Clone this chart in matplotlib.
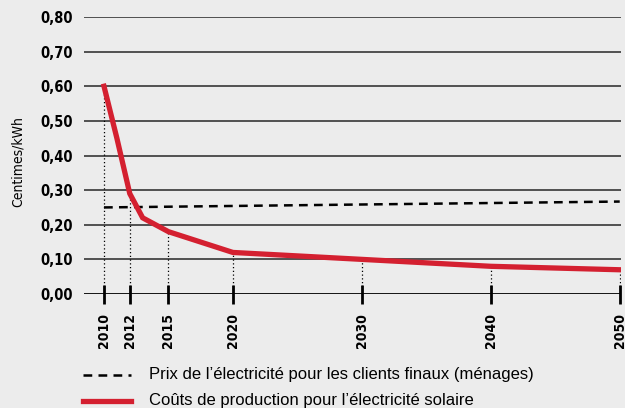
import matplotlib.pyplot as plt
import numpy as np

years_sol = [2010, 2011, 2012, 2013, 2015, 2020, 2030, 2040, 2050]
cost_sol = [0.60, 0.45, 0.29, 0.22, 0.18, 0.12, 0.10, 0.08, 0.07]
years_price = [2010, 2050]
price = [0.25, 0.267]
tick_years = [2010, 2012, 2015, 2020, 2030, 2040, 2050]
tick_cost = [0.60, 0.29, 0.18, 0.12, 0.10, 0.08, 0.07]
yticks = [0.0, 0.1, 0.2, 0.3, 0.4, 0.5, 0.6, 0.7, 0.8]
ylabels = ['0,00', '0,10', '0,20', '0,30', '0,40', '0,50', '0,60', '0,70', '0,80']

narrow = ['DejaVu Sans']
bg = '#ececec'

fig = plt.figure(figsize=(6.25, 4.08), dpi=100, facecolor=bg)
ax = fig.add_axes([84/625, 1-294/408, (621-84)/625, (294-17)/408])
ax.set_facecolor(bg)
ax.set_xlim(2008.45, 2050.1)
ax.set_ylim(0, 0.8)

# grid
for v in yticks[1:]:
    ax.axhline(v, color='#444444', lw=1.3, zorder=1)
ax.axhline(0, color='black', lw=2, zorder=3)

# dotted drop lines
for yr, c in zip(tick_years, tick_cost):
    ax.plot([yr, yr], [0, c], color='black', lw=0.9, ls=(0, (1, 2)), zorder=2)
ax.vlines(tick_years, -0.029, 0.026, color='black', lw=2, clip_on=False, zorder=4)

ax.plot(years_price, price, color='black', lw=1.8, ls=(0, (3.5, 2.5)), zorder=3)
ax.plot(years_sol, cost_sol, color='#d42030', lw=3.8, zorder=4, solid_joinstyle='miter')

ax.set_yticks(yticks)
ax.set_yticklabels(ylabels, family=narrow, stretch='condensed', fontweight='bold', fontsize=10.5)
ax.set_xticks([])
ax.tick_params(axis='y', length=0, pad=8)
for s in ax.spines.values():
    s.set_visible(False)

for yr in tick_years:
    ax.text(yr, -0.055, str(yr), rotation=90, ha='center', va='top',
            family=narrow, stretch='condensed', fontweight='bold', fontsize=10)

fig.text(18/625, 1-162/408, 'Centimes/kWh', rotation=90, ha='center', va='center',
         family=narrow, stretch='condensed', fontsize=10)

# legend
fig.add_artist(plt.Line2D([83/625, 131/625], [1-375/408]*2, color='black', lw=1.8,
                          ls=(0, (3.5, 2.5))))
fig.add_artist(plt.Line2D([83/625, 131/625], [1-401/408]*2, color='#d42030', lw=3.8))
fig.text(149/625, 1-375/408, 'Prix de l\u2019électricité pour les clients finaux (ménages)',
         va='center', ha='left', family=['Liberation Sans', 'DejaVu Sans'], fontsize=12)
fig.text(149/625, 1-401/408, 'Coûts de production pour l\u2019électricité solaire',
         va='center', ha='left', family=['Liberation Sans', 'DejaVu Sans'], fontsize=12)

fig.savefig('out.png', dpi=100, facecolor=bg)
